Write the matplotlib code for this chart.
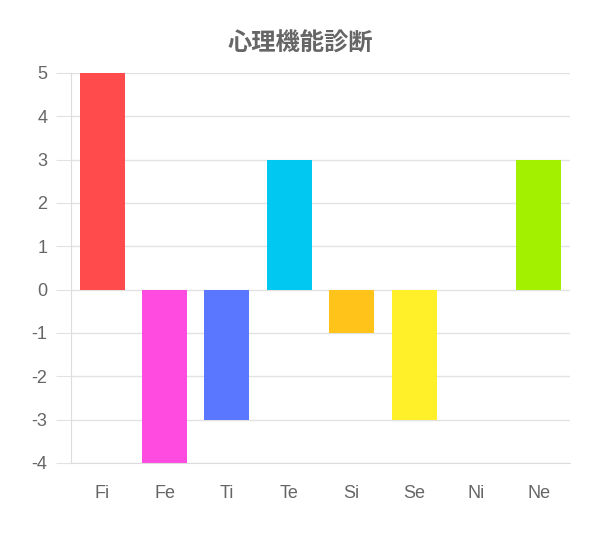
import matplotlib.pyplot as plt

plt.rcParams['font.family'] = ['Noto Sans CJK JP', 'DejaVu Sans']

# Data
functions = ['Fi', 'Fe', 'Ti', 'Te', 'Si', 'Se', 'Ni', 'Ne']
scores = [5, -4, -3, 3, -1, -3, 0, 3]
colors = ['#ff4b4b', '#ff4be0', '#5a78ff', '#00c8f0', '#ffc31a', '#fff02a', '#cccccc', '#a3f000']
y_ticks = [-4, -3, -2, -1, 0, 1, 2, 3, 4, 5]

fig = plt.figure(figsize=(6, 5.57), dpi=100)
ax = fig.add_axes([0.1183, 0.1688, 0.8317, 0.7002])

x = range(len(functions))
ax.bar(x, scores, width=0.72, color=colors, linewidth=0, zorder=2)

ax.set_xlim(-0.5, len(functions) - 0.5)
ax.set_ylim(-4, 5)
ax.set_xticks(list(x))
ax.set_xticklabels(functions, family=['Liberation Sans', 'DejaVu Sans'])
ax.set_yticks(y_ticks)
ax.set_yticklabels([str(t) for t in y_ticks], family=['Liberation Sans', 'DejaVu Sans'])

# Grid behind the bars, light axis lines
ax.set_axisbelow(True)
ax.grid(axis='y', color='#e2e2e2', linewidth=1)
for side in ['top', 'right']:
    ax.spines[side].set_visible(False)
ax.spines['left'].set_color('#dddddd')
ax.spines['bottom'].set_color('#dddddd')
ax.tick_params(axis='y', length=11, color='#e2e2e2', labelsize=13, labelcolor='#666666', pad=6)
ax.tick_params(axis='x', length=0, labelsize=13, labelcolor='#666666', pad=16)

fig.text(0.5, 0.921, '心理機能診断', ha='center', va='center',
         fontsize=17.5, fontweight='bold', color='#666666')

fig.savefig('out.png', dpi=100)
